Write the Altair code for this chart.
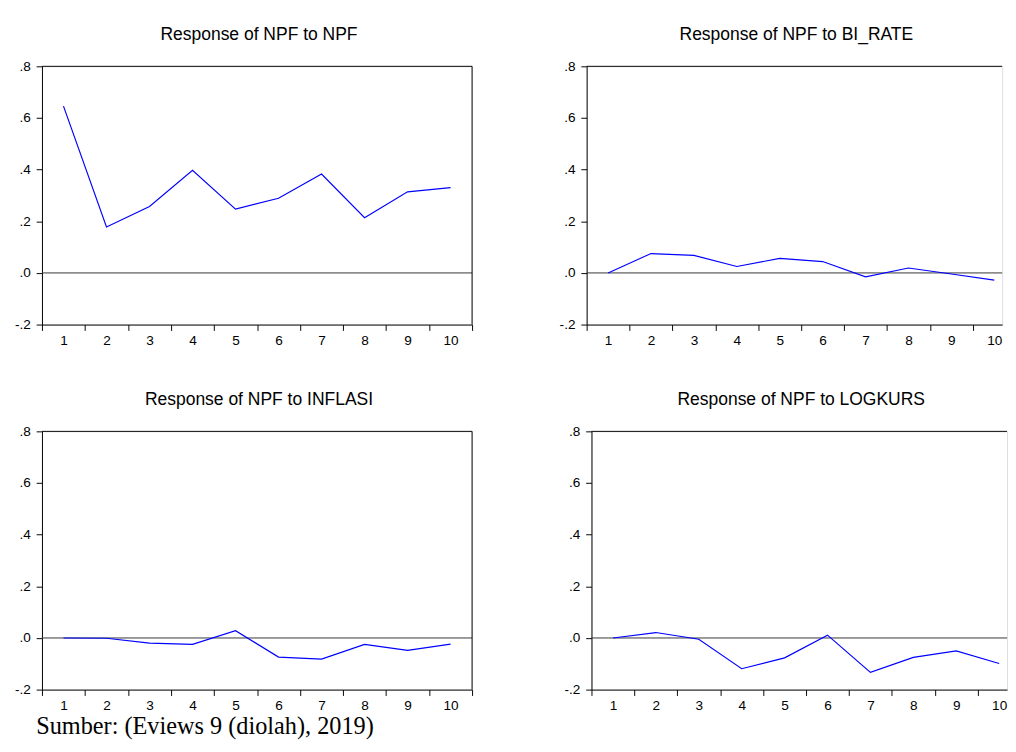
import altair as alt
import pandas as pd

# ---- data ----
horizons = [1, 2, 3, 4, 5, 6, 7, 8, 9, 10]
npf_to_npf = [0.646, 0.178, 0.257, 0.397, 0.247, 0.289, 0.383, 0.214, 0.314, 0.330]
npf_to_bi_rate = [0.000, 0.075, 0.068, 0.025, 0.056, 0.044, -0.015, 0.019, -0.004, -0.028]
npf_to_inflasi = [0.000, -0.001, -0.020, -0.025, 0.028, -0.074, -0.082, -0.025, -0.048, -0.024]
npf_to_logkurs = [0.000, 0.021, -0.005, -0.119, -0.077, 0.011, -0.133, -0.075, -0.050, -0.099]

panel_titles = [
    "Response of NPF to NPF",
    "Response of NPF to BI_RATE",
    "Response of NPF to INFLASI",
    "Response of NPF to LOGKURS",
]
y_ticks = [-0.2, 0.0, 0.2, 0.4, 0.6, 0.8]
x_edges = [0.5, 1.5, 2.5, 3.5, 4.5, 5.5, 6.5, 7.5, 8.5, 9.5, 10.5]
footer = "Sumber: (Eviews 9 (diolah), 2019)"

SANS = "Liberation Sans"
H = 266              # plot height
ONE = pd.DataFrame({"k": [0]})


def panel(values, title, min_extent, width, band, left_side, with_footer=False):
    df = pd.DataFrame({"h": horizons, "v": values})
    x_max = 0.5 + width / band
    edges = [e for e in x_edges if e <= x_max + 1e-9]
    x = alt.X(
        "h:Q",
        scale=alt.Scale(domain=[0.5, x_max], nice=False, zero=False),
        axis=alt.Axis(
            values=edges, title=None, grid=False,
            labelExpr="datum.value > 10 ? '' : format(datum.value + 0.5, 'd')",
            labelOffset=band / 2, labelFlush=False, labelOverlap=False,
            tickSize=6, labelPadding=4, tickColor="black", domainColor="black",
            labelFont=SANS, labelFontSize=14, labelColor="black",
        ),
    )
    y = alt.Y(
        "v:Q",
        scale=alt.Scale(domain=[-0.2, 0.8], nice=False, zero=False),
        axis=alt.Axis(
            values=y_ticks, title=None, grid=False,
            labelExpr="datum.value < 0 ? '-' + replace(format(-datum.value, '.1f'), '0.', '.') : replace(format(datum.value, '.1f'), '0.', '.')",
            labelFlush=False, labelOverlap=False,
            tickSize=6, labelPadding=6, tickColor="black", domainColor="black",
            labelFont=SANS, labelFontSize=14, labelColor="black",
            minExtent=min_extent,
        ),
    )
    line = alt.Chart(df).mark_line(color="#0000ff", strokeWidth=1.2).encode(x=x, y=y)
    zero = alt.Chart(pd.DataFrame({"z": [0.0]})).mark_rule(
        color="#333333", strokeWidth=1).encode(y="z:Q")
    top = alt.Chart(ONE).mark_rule(color="black", strokeWidth=1).encode(y=alt.value(0))
    head = alt.Chart(ONE).mark_text(
        text=title, font=SANS, fontSize=18, color="black",
        align="center", baseline="alphabetic",
    ).encode(x=alt.value(width / 2 + 2), y=alt.value(-27))
    layers = [zero, line, top, head]
    if left_side:
        right = alt.Chart(ONE).mark_rule(color="black", strokeWidth=1).encode(
            x=alt.value(width))
        layers.append(right)
    if with_footer:
        foot = alt.Chart(ONE).mark_text(
            text=footer, font="Liberation Serif", fontSize=25, color="black",
            align="left", baseline="alphabetic",
        ).encode(x=alt.value(-6), y=alt.value(H + 46))
        layers.append(foot)
    return alt.layer(*layers).properties(width=width, height=H)


tl = panel(npf_to_npf, panel_titles[0], 34, 443, 44.3, True)
tr = panel(npf_to_bi_rate, panel_titles[1], 30, 428, 44.2, False)
bl = panel(npf_to_inflasi, panel_titles[2], 29, 443, 44.3, True, with_footer=True)
br = panel(npf_to_logkurs, panel_titles[3], 30, 428, 44.2, False)

top_row = alt.hconcat(tl, tr, spacing=64)
bottom_row = alt.hconcat(bl, br, spacing=69)

chart = alt.vconcat(top_row, bottom_row, spacing=43).properties(
    padding={"left": 0, "top": 7, "right": 0, "bottom": -5},
).configure_view(stroke=None).configure(background="white")

chart.save("out.html", embed_options={"renderer": "svg", "actions": False})
